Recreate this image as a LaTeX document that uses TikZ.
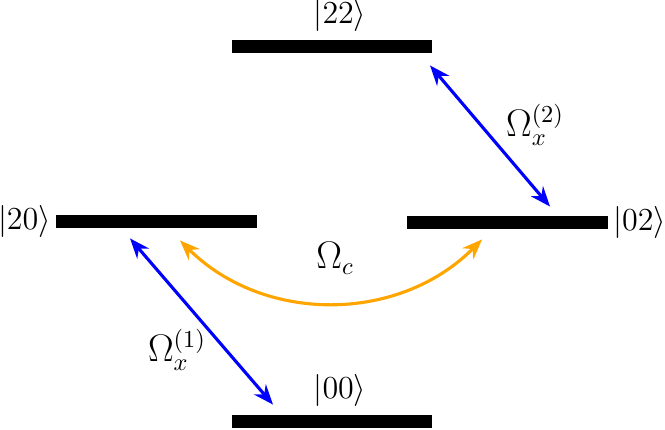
\documentclass[tikz,border=0pt]{standalone}
\usetikzlibrary{arrows.meta}
\definecolor{goldorange}{RGB}{255,165,0}
\begin{document}
\begin{tikzpicture}[
    level/.style={draw=none, fill=black, minimum width=3.17cm, minimum height=0.205cm, inner sep=0pt},
    ket/.style={font=\fontsize{13.5}{16}\selectfont, inner sep=2pt},
    rabi/.style={font=\fontsize{16}{19}\selectfont},
    drive/.style={{Stealth[length=9pt,width=7pt]}-{Stealth[length=9pt,width=7pt]}, line width=1.4pt, blue},
    swap/.style={{Stealth[length=9pt,width=7pt]}-{Stealth[length=9pt,width=7pt]}, line width=1.4pt, goldorange}
]
    \useasboundingbox (0,0) rectangle (10.5,6.774);

    % Livelli
    \node[level] (t22) at (5.242,6.040) {};
    \node[level] (l20) at (2.471,3.276) {};
    \node[level] (r02) at (8.013,3.268) {};
    \node[level] (b00) at (5.242,0.118) {};

    % Etichette degli stati
    \node[ket, above] (k22) at ([xshift=0.126cm, yshift=0.05cm]t22.north) {$|22\rangle$};
    \node[ket, left] (k20) at (l20.west) {$|20\rangle$};
    \node[ket, right] (k02) at (r02.east) {$|02\rangle$};
    \node[ket, above] (k00) at ([xshift=0.126cm, yshift=0.05cm]b00.north) {$|00\rangle$};

    % Accoppiamenti
    \draw[drive] ([xshift=-0.418cm, yshift=-0.157cm]l20.south) -- ([xshift=-0.931cm, yshift=0.158cm]b00.north);
    \draw[drive] ([xshift=1.548cm, yshift=-0.19cm]t22.south) -- ([xshift=0.672cm, yshift=0.135cm]r02.north);
    \draw[swap] ([xshift=0.371cm, yshift=-0.189cm]l20.south) to[bend right=45] ([xshift=-0.402cm, yshift=-0.165cm]r02.south);

    \node[rabi] (om1) at (2.795,1.247) {$\Omega_x^{(1)}$};
    \node[rabi] (om2) at (8.448,4.800) {$\Omega_x^{(2)}$};
    \node[rabi] (omc) at (5.290,2.700) {$\Omega_c$};
\end{tikzpicture}
\end{document}
